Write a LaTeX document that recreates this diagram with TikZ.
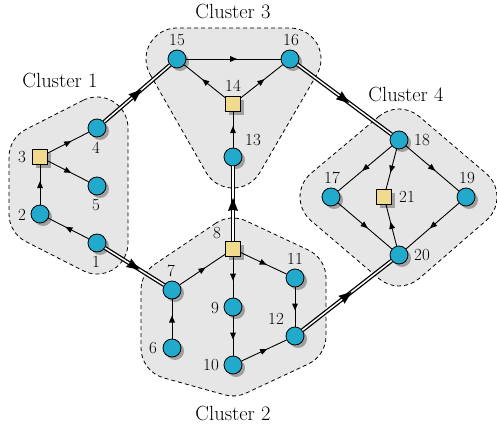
\documentclass[tikz,border=0pt]{standalone}
\usetikzlibrary{calc,decorations.markings,shadows,backgrounds}
\definecolor{nodeblue}{RGB}{33,170,204}
\definecolor{sqyellow}{RGB}{242,218,140}
\definecolor{clgray}{RGB}{230,230,230}
\definecolor{shgray}{RGB}{160,160,160}
\tikzset{
  vtx/.style={circle, draw=black, line width=0.8pt, fill=nodeblue, minimum size=18pt, inner sep=0pt,
    drop shadow={shadow xshift=3pt, shadow yshift=-3pt, fill=shgray, opacity=1}},
  sqv/.style={rectangle, draw=black, line width=0.8pt, fill=sqyellow, minimum size=14.5pt, inner sep=0pt,
    drop shadow={shadow xshift=3.5pt, shadow yshift=-3.5pt, fill=shgray, opacity=1}},
  lbl/.style={font=\fontsize{17}{20}\selectfont, inner sep=0pt},
  clbl/.style={font=\fontsize{20.5}{24}\selectfont, inner sep=0pt},
  cluster/.style={fill=clgray, draw=black, line width=0.8pt, dash pattern=on 4pt off 3pt},
  flow/.style={line width=0.9pt,
    decoration={markings, mark=at position 0.5 with {\fill (3.5pt,0) -- (-3.5pt,3pt) -- (-3.5pt,-3pt) -- cycle;}},
    postaction={decorate}},
  bigflow/.style={double, line width=1.3pt, double distance=1.5pt,
    decoration={markings, mark=at position 0.5 with {\fill (6pt,0) -- (-7pt,5pt) -- (-6pt,0) -- (-7pt,-5pt) -- cycle;}},
    postaction={decorate}},
}
\begin{document}
\begin{tikzpicture}[x=1pt,y=1pt]
\useasboundingbox (0,0) rectangle (497,-430);
\def\R{31pt}
% nodes
\node[vtx] (n1) at (97,-243) {};
\node[vtx] (n2) at (40,-214) {};
\node[sqv] (n3) at (40,-157) {};
\node[vtx] (n4) at (97,-128) {};
\node[vtx] (n5) at (97,-186) {};
\node[vtx] (n6) at (172,-348) {};
\node[vtx] (n7) at (172,-290) {};
\node[sqv] (n8) at (233,-249) {};
\node[vtx] (n9) at (233,-307) {};
\node[vtx] (n10) at (233,-365) {};
\node[vtx] (n11) at (295,-278) {};
\node[vtx] (n12) at (295,-336) {};
\node[vtx] (n13) at (233,-157) {};
\node[sqv] (n14) at (233,-104) {};
\node[vtx] (n15) at (177,-59) {};
\node[vtx] (n16) at (290,-59) {};
\node[vtx] (n17) at (331,-197) {};
\node[vtx] (n18) at (399,-140) {};
\node[vtx] (n19) at (466,-197) {};
\node[vtx] (n20) at (399,-255) {};
\node[sqv] (n21) at (384,-197) {};
% clusters
\begin{scope}[on background layer]
\path[cluster] ($(n4)+(116.97:\R)$) -- ($(n3)+(116.97:\R)$) arc[start angle=116.97, end angle=180, radius=\R]
  -- ($(n2)+(180:\R)$) arc[start angle=180, end angle=243.03, radius=\R]
  -- ($(n1)+(243.03:\R)$) arc[start angle=243.03, end angle=360, radius=\R]
  -- ($(n4)+(0:\R)$) arc[start angle=0, end angle=116.97, radius=\R] -- cycle;
\path[cluster] ($(n8)+(123.9:\R)$) -- ($(n7)+(123.9:\R)$) arc[start angle=123.9, end angle=180, radius=\R]
  -- ($(n6)+(180:\R)$) arc[start angle=180, end angle=254.43, radius=\R]
  -- ($(n10)+(254.43:\R)$) arc[start angle=254.43, end angle=295.07, radius=\R]
  -- ($(n12)+(295.07:\R)$) arc[start angle=295.07, end angle=360, radius=\R]
  -- ($(n11)+(0:\R)$) arc[start angle=0, end angle=64.93, radius=\R]
  -- ($(n8)+(64.93:\R)$) arc[start angle=64.93, end angle=123.9, radius=\R] -- cycle;
\path[cluster] ($(n15)+(209.74:\R)$) -- ($(n13)+(209.74:\R)$) arc[start angle=209.74, end angle=329.82, radius=\R]
  -- ($(n16)+(329.82:\R)$) arc[start angle=329.82, end angle=450, radius=\R]
  -- ($(n15)+(90:\R)$) arc[start angle=90, end angle=209.74, radius=\R] -- cycle;
\path[cluster] ($(n18)+(129.97:\R)$) -- ($(n17)+(129.97:\R)$) arc[start angle=129.97, end angle=229.54, radius=\R]
  -- ($(n20)+(229.54:\R)$) arc[start angle=229.54, end angle=310.88, radius=\R]
  -- ($(n19)+(310.88:\R)$) arc[start angle=310.88, end angle=409.61, radius=\R]
  -- ($(n18)+(49.61:\R)$) arc[start angle=49.61, end angle=129.97, radius=\R] -- cycle;
\end{scope}
% labels
\node[lbl] (t1) at (96,-262) {1};
\node[lbl] (t2) at (22,-215) {2};
\node[lbl] (t3) at (22,-157) {3};
\node[lbl] (t4) at (96,-148) {4};
\node[lbl] (t5) at (96,-205) {5};
\node[lbl] (t6) at (153,-348) {6};
\node[lbl] (t7) at (171,-271) {7};
\node[lbl] (t8) at (217,-233) {8};
\node[lbl] (t9) at (215,-308) {9};
\node[lbl] (t10) at (211,-365) {10};
\node[lbl] (t11) at (295,-259) {11};
\node[lbl] (t12) at (276,-319) {12};
\node[lbl] (t13) at (253,-140) {13};
\node[lbl] (t14) at (233,-86) {14};
\node[lbl] (t15) at (177,-40) {15};
\node[lbl] (t16) at (291,-40) {16};
\node[lbl] (t17) at (332,-178) {17};
\node[lbl] (t18) at (422,-140) {18};
\node[lbl] (t19) at (467,-178) {19};
\node[lbl] (t20) at (422,-255) {20};
\node[lbl] (t21) at (407,-197) {21};
\node[clbl] (c1) at (60,-81) {Cluster 1};
\node[clbl] (c2) at (233,-413) {Cluster 2};
\node[clbl] (c3) at (233,-12) {Cluster 3};
\node[clbl] (c4) at (406,-95) {Cluster 4};
% edges
\draw[flow] (n1) -- (n2);
\draw[flow] (n2) -- (n3);
\draw[flow] (n3) -- (n4);
\draw[flow] (n3) -- (n5);
\draw[flow] (n6) -- (n7);
\draw[flow] (n7) -- (n8);
\draw[flow] (n8) -- (n9);
\draw[flow] (n8) -- (n11);
\draw[flow] (n9) -- (n10);
\draw[flow] (n11) -- (n12);
\draw[flow] (n10) -- (n12);
\draw[flow] (n13) -- (n14);
\draw[flow] (n14) -- (n15);
\draw[flow] (n14) -- (n16);
\draw[flow] (n15) -- (n16);
\draw[flow] (n18) -- (n17);
\draw[flow] (n18) -- (n21);
\draw[flow] (n18) -- (n19);
\draw[flow] (n17) -- (n20);
\draw[flow] (n19) -- (n20);
\draw[flow] (n20) -- (n21);
\draw[bigflow] (n4) -- (n15);
\draw[bigflow] (n1) -- (n7);
\draw[bigflow] (n8) -- (n13);
\draw[bigflow] (n16) -- (n18);
\draw[bigflow] (n12) -- (n20);
\end{tikzpicture}
\end{document}
